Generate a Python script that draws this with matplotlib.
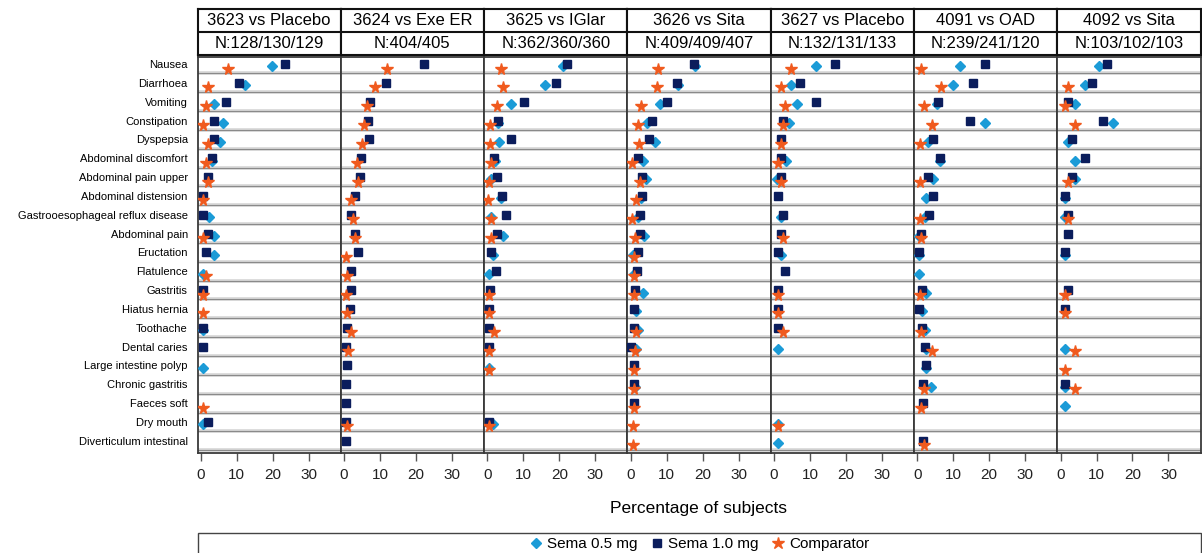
import numpy as np
import matplotlib
matplotlib.use("Agg")
import matplotlib.pyplot as plt
from matplotlib.patches import Rectangle
from matplotlib.lines import Line2D

plt.rcParams['font.family'] = ['Liberation Sans', 'DejaVu Sans']

nan = np.nan

categories = ["Nausea", "Diarrhoea", "Vomiting", "Constipation", "Dyspepsia",
              "Abdominal discomfort", "Abdominal pain upper", "Abdominal distension",
              "Gastrooesophageal reflux disease", "Abdominal pain", "Eructation",
              "Flatulence", "Gastritis", "Hiatus hernia", "Toothache", "Dental caries",
              "Large intestine polyp", "Chronic gastritis", "Faeces soft", "Dry mouth",
              "Diverticulum intestinal"]

trials = ["3623 vs Placebo", "3624 vs Exe ER", "3625 vs IGlar", "3626 vs Sita",
          "3627 vs Placebo", "4091 vs OAD", "4092 vs Sita"]
n_labels = ["N:128/130/129", "N:404/405", "N:362/360/360", "N:409/409/407",
            "N:132/131/133", "N:239/241/120", "N:103/102/103"]

# Percentage of subjects, one list per trial and arm (rows follow `categories`)
s05_3623 = [19.9, 12.2, 3.8, 6.3, 5.4, 3.0, nan, nan, 2.2, 3.8, 3.8, 0.6, nan, nan, 0.6, nan, 0.6, nan, nan, 0.6, nan]
s10_3623 = [23.3, 10.6, 6.9, 3.7, 3.7, 3.1, 2.1, 0.6, 0.6, 2.1, 1.4, nan, 0.6, nan, 0.6, 0.6, nan, nan, nan, 2.1, nan]
cmp_3623 = [7.5, 2.0, 1.4, 0.6, 2.0, 1.4, 2.1, 0.6, nan, 0.6, nan, 1.5, 0.6, 0.6, nan, nan, nan, nan, 0.6, nan, nan]

s05_3624 = [nan] * 21
s10_3624 = [22.2, 11.6, 7.3, 6.7, 6.9, 4.6, 4.3, 3.1, 2.0, 3.1, 3.9, 1.8, 2.0, 1.6, 0.8, 0.4, 0.8, 0.5, 0.5, 0.4, 0.5]
cmp_3624 = [12.0, 8.5, 6.3, 5.5, 4.9, 3.7, 4.0, 2.0, 2.5, 3.1, 0.6, 0.9, 0.5, 0.8, 2.0, 1.1, nan, nan, nan, 0.9, nan]

s05_3625 = [20.9, 16.0, 6.7, 3.0, 3.3, 2.2, 0.9, 3.7, 1.1, 4.4, 1.5, 0.5, nan, nan, nan, nan, 0.5, nan, nan, 1.7, nan]
s10_3625 = [22.0, 19.0, 10.1, 3.0, 6.6, 1.8, 2.7, 4.2, 5.2, 2.7, 1.0, 2.3, 0.8, 0.4, 0.5, 0.5, nan, nan, nan, 0.4, nan]
cmp_3625 = [3.7, 4.4, 2.8, 0.6, 0.6, 1.1, 0.4, 0.3, 0.9, 1.1, nan, nan, 0.4, 0.4, 1.9, 0.4, 0.5, nan, nan, 0.4, nan]

s05_3626 = [18.0, 13.2, 8.1, 4.5, 6.7, 3.5, 4.3, 2.9, 2.0, 3.6, 0.7, 0.8, 3.3, 1.4, 2.1, 1.6, nan, 1.3, nan, nan, nan]
s10_3626 = [17.7, 13.0, 10.1, 5.9, 5.0, 2.0, 3.1, 3.1, 2.5, 2.5, 1.9, 1.7, 1.3, 1.0, 1.0, 0.2, 0.8, 0.8, 0.8, nan, nan]
cmp_3626 = [7.5, 7.3, 2.8, 2.0, 2.4, 0.5, 2.6, 1.5, 0.4, 1.2, 0.8, 1.0, 0.8, nan, 1.5, 1.1, 0.8, 0.8, 0.8, 0.6, 0.6]

s05_3627 = [11.6, 4.7, 6.4, 4.2, nan, 3.3, 0.9, nan, 1.9, nan, 1.9, nan, nan, nan, nan, 1.1, nan, nan, nan, 1.1, 1.1]
s10_3627 = [17.0, 7.1, 11.6, 2.5, 1.9, 1.9, 1.9, 1.1, 2.6, 1.9, 1.1, 3.2, 1.1, 1.1, 1.1, nan, nan, nan, nan, nan, nan]
cmp_3627 = [4.7, 1.9, 3.2, 2.5, 1.9, 1.0, 1.9, nan, nan, 2.6, nan, nan, 1.1, 1.1, 2.6, nan, nan, nan, nan, 1.1, nan]

s05_4091 = [12.0, 9.8, 5.5, 18.8, 3.0, 6.4, 4.3, 2.3, 2.2, 0.6, 0.6, 0.6, 2.5, 1.4, 2.1, 2.3, 2.5, 3.9, nan, nan, nan]
s10_4091 = [18.9, 15.5, 5.8, 14.6, 4.5, 6.4, 3.0, 4.5, 3.4, 1.1, 0.6, nan, 1.4, 0.6, 1.4, 2.1, 2.5, 1.7, 1.7, nan, 1.7]
cmp_4091 = [1.0, 6.7, 1.8, 4.2, 0.8, nan, 0.8, nan, 0.9, 1.1, nan, nan, 0.9, nan, 1.0, 4.2, nan, 1.8, 1.0, nan, 1.8]

s05_4092 = [10.6, 6.9, 4.0, 14.5, 2.0, 3.9, 4.1, 1.3, 1.2, nan, 1.3, nan, nan, nan, nan, 1.3, nan, 1.3, 1.3, nan, nan]
s10_4092 = [12.8, 8.8, 2.1, 11.8, 3.1, 6.9, 3.2, 1.3, 2.0, 2.0, 1.3, nan, 2.1, 1.3, nan, nan, nan, 1.3, nan, nan, nan]
cmp_4092 = [nan, 2.0, 1.3, 3.9, nan, nan, 2.0, nan, 2.0, nan, nan, nan, 1.3, 1.3, nan, 4.0, 1.3, 4.0, nan, nan, nan]

sema05 = [s05_3623, s05_3624, s05_3625, s05_3626, s05_3627, s05_4091, s05_4092]
sema10 = [s10_3623, s10_3624, s10_3625, s10_3626, s10_3627, s10_4091, s10_4092]
comparator = [cmp_3623, cmp_3624, cmp_3625, cmp_3626, cmp_3627, cmp_4091, cmp_4092]

series_names = ["Sema 0.5 mg", "Sema 1.0 mg", "Comparator"]
x_ticks = [0, 10, 20, 30]

C05 = '#1b9bd7'
C10 = '#0b1d5c'
CCMP = '#f05a1e'

W, H = 1202, 553
fig = plt.figure(figsize=(W / 100, H / 100), dpi=100)


def fx(px):
    return px / W


def fy(py):
    return 1 - py / H


left_px, right_px = 197.5, 1200.5
pw = (right_px - left_px) / 7
top_px, bot_px = 56.5, 453
hdr_top, hdr_bot = 9, 54.5

n = len(categories)
rows = np.arange(1, n + 1)

for i in range(7):
    x0 = left_px + i * pw
    ax = fig.add_axes([fx(x0), fy(bot_px), pw / W, (bot_px - top_px) / H])
    for k in np.arange(1.5, n + 0.6, 1.0):
        ax.axhline(k, color='#d6d6d6', lw=2.6, zorder=0)
        ax.axhline(k, color='#8a8a8a', lw=0.8, zorder=0.5)
    ax.plot(sema05[i], rows + 0.13, ls='none', marker='D', ms=4.6,
            color=C05, mec=C05, zorder=3)
    ax.plot(sema10[i], rows, ls='none', marker='s', ms=5.2,
            color=C10, mec=C10, zorder=4)
    ax.plot(comparator[i], rows + 0.24, ls='none', marker='*', ms=8.5,
            color=CCMP, mec=CCMP, zorder=5)
    ax.set_xlim(-0.92, 38.9)
    ax.set_ylim(n + 0.65, 0.6)
    ax.set_xticks(x_ticks)
    ax.set_xticklabels([str(t) for t in x_ticks])
    ax.tick_params(axis='x', direction='out', length=6, width=1, color='#555555',
                   labelsize=11, pad=5, labelcolor='#222222')
    if i == 0:
        ax.set_yticks(rows)
        ax.set_yticklabels(categories, fontsize=8)
        ax.tick_params(axis='y', length=0, pad=7)
    else:
        ax.set_yticks([])
    for sp in ax.spines.values():
        sp.set_color('#3a3a3a')
        sp.set_linewidth(1.3)

    hax = fig.add_axes([fx(x0), fy(hdr_bot), pw / W, (hdr_bot - hdr_top) / H])
    hax.set_xlim(0, 1)
    hax.set_ylim(0, 1)
    hax.set_xticks([])
    hax.set_yticks([])
    for sp in hax.spines.values():
        sp.set_color('#111111')
        sp.set_linewidth(1.5)
    hax.axhline(0.5, color='#111111', lw=1.5)
    hax.text(0.5, 0.75, trials[i], ha='center', va='center', fontsize=12)
    hax.text(0.5, 0.25, n_labels[i], ha='center', va='center', fontsize=12)

fig.text(fx((left_px + right_px) / 2), fy(508), 'Percentage of subjects',
         ha='center', va='center', fontsize=12.5)

fig.patches.append(Rectangle((fx(left_px), fy(565)), (right_px - left_px) / W,
                             (565 - 533) / H, transform=fig.transFigure,
                             fill=False, edgecolor='#444444', lw=1.0))

handles = [Line2D([], [], ls='none', marker='D', ms=5, color=C05),
           Line2D([], [], ls='none', marker='s', ms=5.5, color=C10),
           Line2D([], [], ls='none', marker='*', ms=9, color=CCMP)]
fig.legend(handles, series_names, loc='center', ncol=3, frameon=False,
           bbox_to_anchor=(fx((left_px + right_px) / 2), fy(544)),
           fontsize=11, handletextpad=0.2, columnspacing=0.8, handlelength=1.0,
           borderpad=0)

fig.savefig('out.png', dpi=100)
